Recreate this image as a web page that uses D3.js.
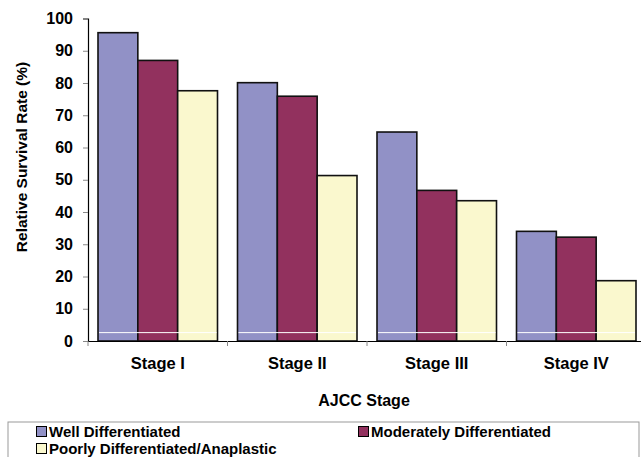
<!DOCTYPE html>
<html><head><meta charset="utf-8">
<script src="https://cdn.jsdelivr.net/npm/d3@7"></script>
<style>body{margin:0;background:#fff}svg{display:block;font-family:"Liberation Sans",Arial,sans-serif;font-weight:bold}</style>
</head><body>
<svg id="c" width="641" height="457"></svg>
<script>
const categories = ["Stage I","Stage II","Stage III","Stage IV"];
const seriesNames = ["Well Differentiated","Moderately Differentiated","Poorly Differentiated/Anaplastic"];
const wellValues = [95.6, 80.1, 64.8, 34.0];
const moderateValues = [87.0, 75.9, 46.7, 32.2];
const poorlyValues = [77.6, 51.3, 43.5, 18.7];
const yTicks = [0,10,20,30,40,50,60,70,80,90,100];
const colors = ["#9191C6","#92315E","#FAF8CE"];
const series = [wellValues, moderateValues, poorlyValues];

const svg = d3.select("#c");
const mLeft = 88, mRight = 646, mTop = 18.5, mBottom = 341;
const x = d3.scaleBand().domain(categories).range([mLeft, mRight]).paddingInner(0).paddingOuter(0);
const y = d3.scaleLinear().domain([0,100]).range([mBottom, mTop]);
const gap = x.bandwidth() * 10/139.5;
const xs = d3.scaleBand().domain(d3.range(3)).range([gap, x.bandwidth()-gap]);

// bars
categories.forEach((c, ci) => {
  series.forEach((vals, si) => {
    svg.append("rect")
      .attr("x", x(c) + xs(si)).attr("y", y(vals[ci]))
      .attr("width", xs.bandwidth()).attr("height", y(0) - y(vals[ci]))
      .attr("fill", colors[si]).attr("stroke", "#111").attr("stroke-width", 1.6);
  });
  svg.append("line")
    .attr("x1", x(c) + xs(0) + 1).attr("x2", x(c) + xs(2) + xs.bandwidth() - 1)
    .attr("y1", y(2.6)).attr("y2", y(2.6))
    .attr("stroke", "#fff").attr("stroke-width", 1);
});

const FONT = "Liberation Sans, Arial, sans-serif";
// y axis
const ya = svg.append("g").attr("transform", `translate(${mLeft},0)`)
  .call(d3.axisLeft(y).tickValues(yTicks).tickSize(5).tickPadding(10));
ya.select(".domain").attr("stroke", "#000").attr("stroke-width", 1.2);
ya.selectAll(".tick line").attr("stroke", "#888");
ya.selectAll(".tick text").attr("font-size", 16).attr("font-weight", "bold").attr("font-family", FONT).attr("fill", "#000");

// x axis
const xa = svg.append("g").attr("transform", `translate(0,${mBottom})`)
  .call(d3.axisBottom(x).tickSize(0).tickPadding(16));
xa.select(".domain").attr("stroke", "#000").attr("stroke-width", 1.2);
xa.selectAll(".tick text").attr("font-size", 16.5).attr("font-weight", "bold").attr("font-family", FONT).attr("fill", "#000");
const bounds = categories.map(c => x(c)).concat([x(categories[categories.length-1]) + x.bandwidth()]);
svg.selectAll(".bt").data(bounds).enter().append("line")
  .attr("x1", d => d).attr("x2", d => d).attr("y1", mBottom).attr("y2", mBottom + 5)
  .attr("stroke", "#888");

// titles
svg.append("text").attr("x", 364).attr("y", 406).attr("text-anchor", "middle")
  .attr("font-size", 16).text("AJCC Stage");
svg.append("text").attr("transform", "translate(27,157) rotate(-90)").attr("text-anchor", "middle")
  .attr("font-size", 15.5).text("Relative Survival Rate (%)");

// legend
svg.append("rect").attr("x", 8).attr("y", 422).attr("width", 631).attr("height", 40)
  .attr("fill", "none").attr("stroke", "#999").attr("stroke-width", 1);
const legPos = [[36, 431.5], [358, 431.5], [36, 448.5]];
seriesNames.forEach((n, i) => {
  const [lx, ly] = legPos[i];
  svg.append("rect").attr("x", lx + 0.5).attr("y", ly - 5).attr("width", 10).attr("height", 10)
    .attr("fill", colors[i]).attr("stroke", "#000").attr("stroke-width", 1);
  svg.append("text").attr("x", lx + 13).attr("y", ly + 5.5).attr("font-size", 15).text(n);
});
</script>
</body></html>
